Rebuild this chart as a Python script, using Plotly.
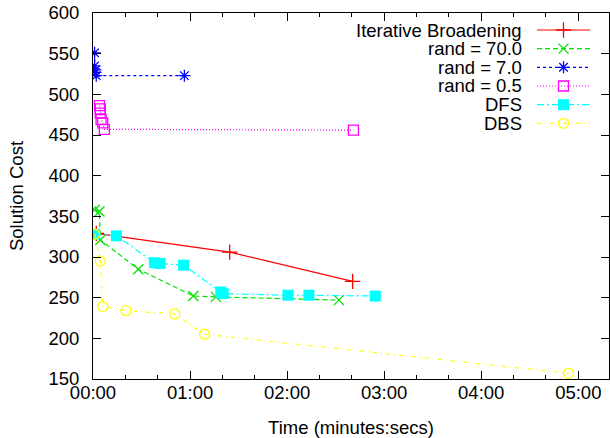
import plotly.graph_objects as go

# ---- data (time in seconds, solution cost) ----
ib_t = [2, 84.5, 160.5]
ib_c = [329, 306, 270]

r70_t = [1, 4, 4.5, 28, 62, 76, 152]
r70_c = [358, 356, 321, 285, 252, 251, 247]

r7_t = [1, 1, 1.5, 1.5, 2, 56.5]
r7_c = [551, 535, 530, 527, 523, 523]

r05_t = [4, 4.5, 4.5, 5, 6, 7, 161]
r05_c = [486, 482, 477, 469, 465, 457, 456]

dfs_t = [1, 14.5, 38, 41.5, 56, 79, 80.5, 120.5, 133.5, 174.5]
dfs_c = [328, 326, 293, 292, 290, 257, 255, 253, 253, 252]

dbs_t = [1, 4.5, 6, 20.5, 50.5, 69, 294]
dbs_c = [328, 295, 239, 234, 230, 205, 157]

x_tickvals = [0, 60, 120, 180, 240, 300]
x_ticktext = ["00:00", "01:00", "02:00", "03:00", "04:00", "05:00"]
y_tickvals = [150, 200, 250, 300, 350, 400, 450, 500, 550, 600]

FONT = "Liberation Sans, Arial, Helvetica, sans-serif"
FS = 18.5

W, H = 610, 438
ML, MR, MT, MB = 93, 1, 13, 59
PW = W - ML - MR
PH = H - MT - MB

series = [
    ("Iterative Broadening", ib_t, ib_c, "#ff0000", "solid", "cross-thin-open", 11, False),
    ("rand = 70.0", r70_t, r70_c, "#00e000", "5px,3px", "x-thin-open", 10, False),
    ("rand = 7.0", r7_t, r7_c, "#0000ff", "3px,3px", "asterisk-open", 10, False),
    ("rand = 0.5", r05_t, r05_c, "#ff00ff", "1px,2px", "square-open", 10, False),
    ("DFS", dfs_t, dfs_c, "#00ffff", "7px,3px,2px,3px", "square", 11, True),
    ("DBS", dbs_t, dbs_c, "#ffff00", "4px,4px,1px,4px", "circle-open", 10, False),
]

fig = go.Figure()
for name, t, c, col, dash, sym, size, filled in series:
    fig.add_trace(go.Scatter(
        x=t, y=c, mode="lines+markers", name=name,
        line=dict(color=col, width=1.2, dash=dash),
        marker=dict(symbol=sym, size=size, color=col,
                    line=dict(color=col, width=1.3 if not filled else 0)),
        showlegend=False,
    ))

# custom legend (text on the left, sample on the right, like gnuplot)
leg_y0 = 30
leg_dy = 18.66
samp_x0, samp_x1 = 537, 590
span = PW / (samp_x1 - samp_x0)
x2_lo = -(samp_x0 - ML) / (samp_x1 - samp_x0)
x2_hi = x2_lo + span
for i, (name, t, c, col, dash, sym, size, filled) in enumerate(series):
    ypix = leg_y0 + i * leg_dy
    yp = 1 - (ypix - MT) / PH
    fig.add_annotation(x=(524 - ML) / PW, y=yp, xref="paper", yref="paper", text=name,
                       showarrow=False, xanchor="right", yanchor="middle",
                       font=dict(family=FONT, size=FS, color="black"))
    fig.add_trace(go.Scatter(
        x=[0.0, 0.5, 1.0], y=[yp, yp, yp], xaxis="x2", yaxis="y2",
        mode="lines", line=dict(color=col, width=1.2, dash=dash),
        showlegend=False, hoverinfo="skip"))
    fig.add_trace(go.Scatter(
        x=[0.5], y=[yp], xaxis="x2", yaxis="y2", mode="markers",
        marker=dict(symbol=sym, size=size, color=col,
                    line=dict(color=col, width=1.3 if not filled else 0)),
        showlegend=False, hoverinfo="skip"))

fig.update_layout(
    width=W, height=H,
    margin=dict(l=ML, r=MR, t=MT, b=MB, pad=0),
    paper_bgcolor="white", plot_bgcolor="white",
    font=dict(family=FONT, size=FS, color="black"),
    showlegend=False,
    xaxis=dict(
        range=[0, 319], tickmode="array", tickvals=x_tickvals, ticktext=x_ticktext,
        ticks="inside", ticklen=8, tickwidth=1, tickcolor="black",
        minor=dict(dtick=20, tick0=0, ticks="inside", ticklen=4, tickwidth=1, tickcolor="black"),
        showline=True, linecolor="black", linewidth=1, mirror="ticks",
        showgrid=False, zeroline=False, automargin=False, ticklabelstandoff=-3,
        ticklabeloverflow="allow",
        title=dict(text="Time (minutes:secs)", standoff=19, font=dict(size=FS)),
        tickfont=dict(size=FS),
    ),
    yaxis=dict(
        range=[150, 600], tickmode="array", tickvals=y_tickvals,
        ticks="inside", ticklen=8, tickwidth=1, tickcolor="black",
        showline=True, linecolor="black", linewidth=1, mirror="ticks",
        showgrid=False, zeroline=False, ticklabelstandoff=9, automargin=False,
        ticklabeloverflow="allow",
        title=dict(text="Solution Cost", standoff=19, font=dict(size=FS)),
        tickfont=dict(size=FS),
    ),
    xaxis2=dict(range=[x2_lo, x2_hi], visible=False, overlaying="x", anchor="y2"),
    yaxis2=dict(range=[0, 1], visible=False, overlaying="y", anchor="x2"),
)

fig.write_html("out.html", config={"displayModeBar": False},
               post_script="document.body.style.margin='0';")
